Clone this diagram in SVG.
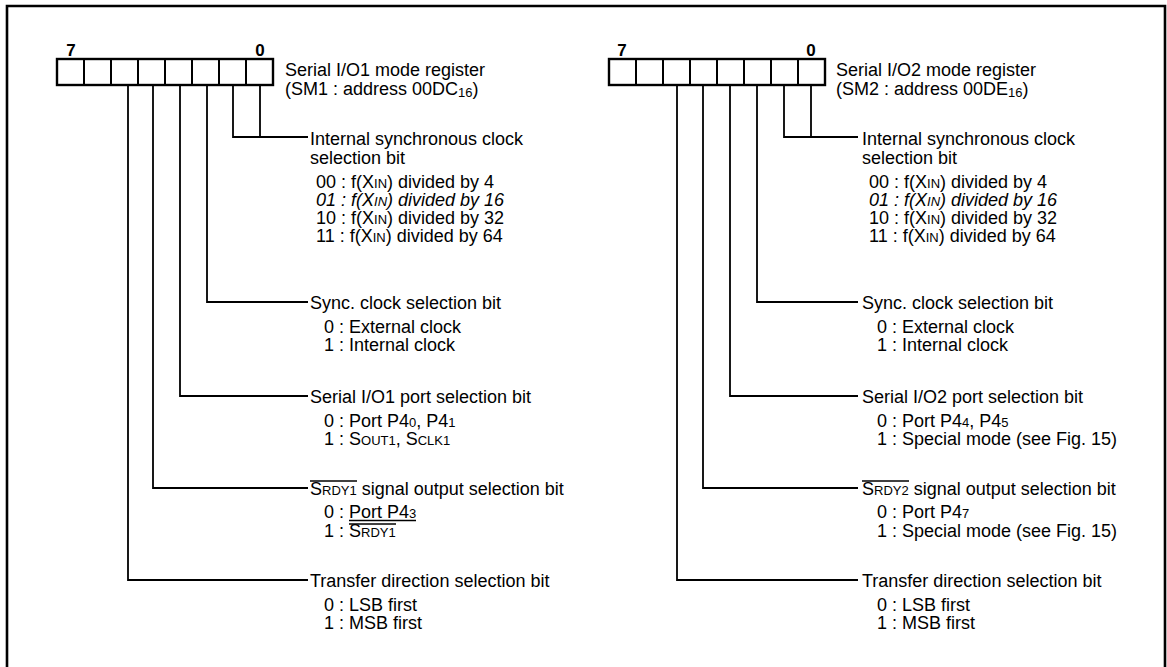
<svg xmlns="http://www.w3.org/2000/svg" width="1167" height="667" viewBox="0 0 1167 667">
<style>
text{font-family:"Liberation Sans",Arial,Helvetica,sans-serif;font-size:18px;fill:#000}
.sm{font-size:13px}
.bit{font-weight:bold;font-size:17px;text-anchor:middle}
.it{font-style:italic}
.ln{stroke:#000;stroke-width:1.8;fill:none}
.box{stroke:#000;stroke-width:2.4;fill:#fff}
.dv{stroke:#000;stroke-width:2}
.ol{stroke:#000;stroke-width:1.3}
</style>
<rect width="1167" height="667" fill="#fff"/>
<path d="M7,667 V6 H1165 V667" fill="none" stroke="#000" stroke-width="2.6"/>

<g id="connectors">
<path class="ln" d="M233,85 V137 H308 M260,85 V137"/>
<path class="ln" d="M207,85 V302 H308"/>
<path class="ln" d="M180,85 V396 H308"/>
<path class="ln" d="M153,85 V488 H308"/>
<path class="ln" d="M128,85 V580 H308"/>
<path class="ln" d="M784,85 V137 H858 M811,85 V137"/>
<path class="ln" d="M757,85 V302 H858"/>
<path class="ln" d="M730,85 V396 H858"/>
<path class="ln" d="M703,85 V488 H858"/>
<path class="ln" d="M677,85 V580 H858"/>
</g>

<g id="reg1">
<text class="bit" x="71" y="56">7</text>
<text class="bit" x="260" y="56">0</text>
<rect class="box" x="57" y="59" width="216" height="26"/>
<path class="dv" d="M84,59V85M111,59V85M138,59V85M165,59V85M192,59V85M219,59V85M246,59V85"/>
<text x="285" y="76">Serial I/O1 mode register</text>
<text x="285" y="95">(SM1 : address 00DC<tspan class="sm" dy="2">16</tspan><tspan dy="-2">)</tspan></text>
</g>

<g id="reg1-clk">
<text x="310" y="145">Internal synchronous clock</text>
<text x="310" y="164">selection bit</text>
<text x="316" y="188">00 : f(X<tspan class="sm">IN</tspan>) divided by 4</text>
<text class="it" x="316" y="206">01 : f(X<tspan class="sm">IN</tspan>) divided by 16</text>
<text x="316" y="224">10 : f(X<tspan class="sm">IN</tspan>) divided by 32</text>
<text x="316" y="242">11 : f(X<tspan class="sm">IN</tspan>) divided by 64</text>
</g>
<g id="reg1-sync">
<text x="310" y="309">Sync. clock selection bit</text>
<text x="324" y="333">0 : External clock</text>
<text x="324" y="351">1 : Internal clock</text>
</g>
<g id="reg1-port">
<text x="310" y="403">Serial I/O1 port selection bit</text>
<text x="324" y="427">0 : Port P4<tspan class="sm">0</tspan>, P4<tspan class="sm">1</tspan></text>
<text x="324" y="445">1 : S<tspan class="sm">OUT1</tspan>, S<tspan class="sm">CLK1</tspan></text>
</g>
<g id="reg1-srdy">
<text x="310" y="495">S<tspan class="sm">RDY1</tspan> signal output selection bit</text>
<line class="ol" x1="310" y1="481" x2="357" y2="481"/>
<text x="324" y="518">0 : Port P4<tspan class="sm">3</tspan></text>
<line class="ol" x1="349" y1="520.5" x2="416" y2="520.5"/>
<text x="324" y="537">1 : S<tspan class="sm">RDY1</tspan></text>
<line class="ol" x1="349" y1="524" x2="396" y2="524"/>
</g>
<g id="reg1-dir">
<text x="310" y="587">Transfer direction selection bit</text>
<text x="324" y="611">0 : LSB first</text>
<text x="324" y="629">1 : MSB first</text>
</g>

<g id="reg2">
<text class="bit" x="622" y="56">7</text>
<text class="bit" x="811" y="56">0</text>
<rect class="box" x="609" y="59" width="216" height="26"/>
<path class="dv" d="M636,59V85M663,59V85M690,59V85M717,59V85M744,59V85M771,59V85M798,59V85"/>
<text x="836" y="76">Serial I/O2 mode register</text>
<text x="836" y="95">(SM2 : address 00DE<tspan class="sm" dy="2">16</tspan><tspan dy="-2">)</tspan></text>
</g>

<g id="reg2-clk">
<text x="862" y="145">Internal synchronous clock</text>
<text x="862" y="164">selection bit</text>
<text x="869" y="188">00 : f(X<tspan class="sm">IN</tspan>) divided by 4</text>
<text class="it" x="869" y="206">01 : f(X<tspan class="sm">IN</tspan>) divided by 16</text>
<text x="869" y="224">10 : f(X<tspan class="sm">IN</tspan>) divided by 32</text>
<text x="869" y="242">11 : f(X<tspan class="sm">IN</tspan>) divided by 64</text>
</g>
<g id="reg2-sync">
<text x="862" y="309">Sync. clock selection bit</text>
<text x="877" y="333">0 : External clock</text>
<text x="877" y="351">1 : Internal clock</text>
</g>
<g id="reg2-port">
<text x="862" y="403">Serial I/O2 port selection bit</text>
<text x="877" y="427">0 : Port P4<tspan class="sm">4</tspan>, P4<tspan class="sm">5</tspan></text>
<text x="877" y="445">1 : Special mode (see Fig. 15)</text>
</g>
<g id="reg2-srdy">
<text x="862" y="495">S<tspan class="sm">RDY2</tspan> signal output selection bit</text>
<line class="ol" x1="862" y1="481" x2="909" y2="481"/>
<text x="877" y="518">0 : Port P4<tspan class="sm">7</tspan></text>
<text x="877" y="537">1 : Special mode (see Fig. 15)</text>
</g>
<g id="reg2-dir">
<text x="862" y="587">Transfer direction selection bit</text>
<text x="877" y="611">0 : LSB first</text>
<text x="877" y="629">1 : MSB first</text>
</g>
</svg>
